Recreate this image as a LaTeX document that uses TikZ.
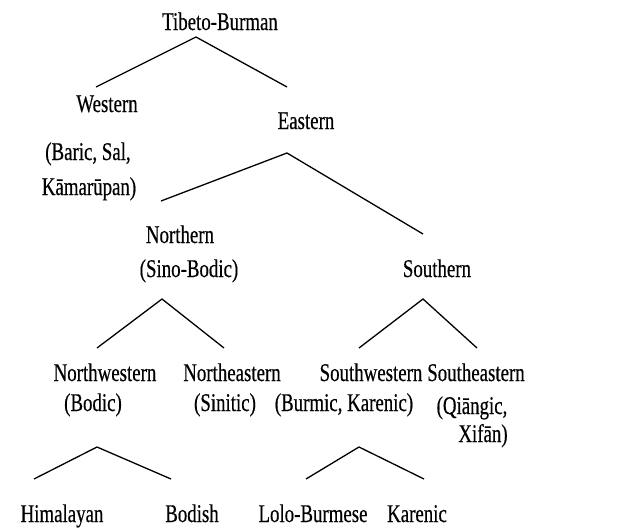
\documentclass[tikz,border=0pt]{standalone}
\usepackage{fontspec}
\setmainfont{Liberation Serif}[FakeStretch=0.74,FakeBold=0.4]
\begin{document}
\begin{tikzpicture}[x=1pt,y=-1pt,
  lab/.style={anchor=base,inner sep=0pt,font=\fontsize{25.5}{28}\selectfont},
  branch/.style={draw=black,line width=1.3pt}]
\useasboundingbox (0,0) rectangle (620,530);
% labels
\node[lab] (tb) at (220,30) {Tibeto-Burman};
\node[lab] (w) at (107,112) {Western};
\node[lab] (w2) at (88,160) {(Baric, Sal,};
\node[lab] (w3) at (89,195) {Kāmarūpan)};
\node[lab] (e) at (306,129) {Eastern};
\node[lab] (n) at (180,243) {Northern};
\node[lab] (n2) at (189,277) {(Sino-Bodic)};
\node[lab] (s) at (437,277) {Southern};
\node[lab] (nw) at (105,381) {Northwestern};
\node[lab] (nw2) at (93,411) {(Bodic)};
\node[lab] (ne) at (232,381) {Northeastern};
\node[lab] (ne2) at (225,411) {(Sinitic)};
\node[lab] (sw) at (371,381) {Southwestern};
\node[lab] (sw2) at (344,411) {(Burmic, Karenic)};
\node[lab] (se) at (476,381) {Southeastern};
\node[lab] (se2) at (472,414) {(Qiāngic,};
\node[lab] (se3) at (483,442) {Xifān)};
\node[lab] (hi) at (62,522) {Himalayan};
\node[lab] (bo) at (192,522) {Bodish};
\node[lab] (lb) at (313,522) {Lolo-Burmese};
\node[lab] (ka) at (417,522) {Karenic};
% branch points
\coordinate (tbA) at (196,37);
\coordinate (tbL) at (96,87);
\coordinate (tbR) at (287,87);
\coordinate (eA) at (287,153);
\coordinate (eL) at (161,201);
\coordinate (eR) at (423,234);
\coordinate (nA) at (162,299);
\coordinate (nL) at (97,348);
\coordinate (nR) at (224,348);
\coordinate (sA) at (423,299);
\coordinate (sL) at (359,348);
\coordinate (sR) at (477,348);
\coordinate (nwA) at (97,447);
\coordinate (nwL) at (34,479);
\coordinate (nwR) at (171,479);
\coordinate (swA) at (359,447);
\coordinate (swL) at (306,479);
\coordinate (swR) at (424,479);
% branches
\draw[branch] (tbL) -- (tbA) -- (tbR);
\draw[branch] (eL) -- (eA) -- (eR);
\draw[branch] (nL) -- (nA) -- (nR);
\draw[branch] (sL) -- (sA) -- (sR);
\draw[branch] (nwL) -- (nwA) -- (nwR);
\draw[branch] (swL) -- (swA) -- (swR);
\end{tikzpicture}
\end{document}
